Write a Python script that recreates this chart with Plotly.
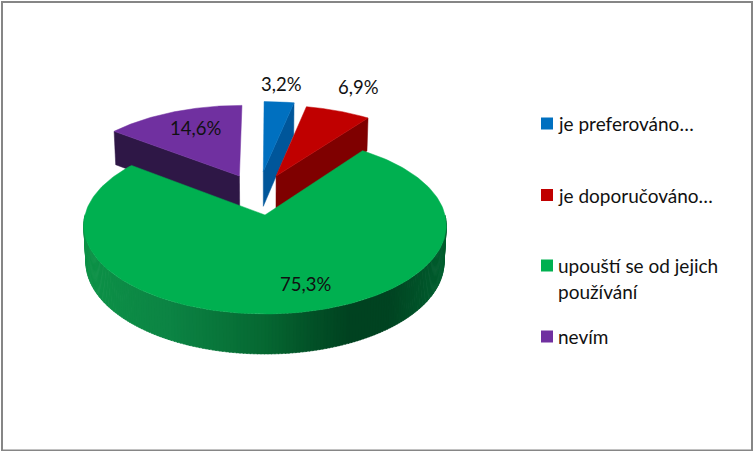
import numpy as np
import plotly.graph_objects as go

labels = ['je preferováno…', 'je doporučováno…', 'upouští se od jejich', 'nevím']
values = [3.2, 6.9, 75.3, 14.6]
top_colors = ['#0070C0', '#C00000', '#00B050', '#7030A0']
wall_colors = ['#00569A', '#7F0000', '#006030', '#2E1746']

# how far each slice is pulled out of the pie, in radii
offset_x = [-0.01, 0.065, 0.0, -0.15]
offset_y = [-0.53, -0.47, 0.0, -0.47]

# shading of the green rim, left to right
rim_x = [85, 170, 265, 310, 350, 390, 446]
rim_r = [14, 12, 6, 3, 0, 0, 0]
rim_g = [146, 132, 104, 82, 66, 68, 96]
rim_b = [72, 68, 50, 40, 32, 34, 48]

# pie projection
cx, cy = 265, 215
rx, ry, depth = 180, 87.4, 37
persp = 0.117


def project(x, y, z=0.0):
    w = 1 - persp * y + 0.012 * z
    return cx + rx * x / w, cy + (ry * y + depth * z) / w


def rim_point(i, deg, z=0.0):
    t = np.radians(deg)
    return project(offset_x[i] + np.sin(t), offset_y[i] - np.cos(t), z)


def polygon(xs, ys, color):
    return go.Scatter(x=xs, y=ys, mode='lines', fill='toself', fillcolor=color,
                      line=dict(color=color, width=0.5), hoverinfo='skip', showlegend=False)


fig = go.Figure()

# slice angles clockwise from the top
edges = np.cumsum([0] + values) * 3.6


def top_surface(i):
    degs = np.linspace(edges[i], edges[i + 1], 200)
    xs, ys = rim_point(i, degs)
    tx, ty = project(offset_x[i], offset_y[i])
    return polygon(np.r_[tx, xs, tx], np.r_[ty, ys, ty], top_colors[i])


def radial_wall(i, deg):
    ox, oy = project(offset_x[i], offset_y[i])
    ox2, oy2 = project(offset_x[i], offset_y[i], 1.0)
    ex, ey = rim_point(i, deg)
    ex2, ey2 = rim_point(i, deg, 1.0)
    return polygon([ox, ex, ex2, ox2, ox], [oy, ey, ey2, oy2, oy], wall_colors[i])


# back slices first, the green one covers them
fig.add_trace(radial_wall(3, edges[3]))
fig.add_trace(top_surface(3))
fig.add_trace(radial_wall(0, edges[1]))
fig.add_trace(top_surface(0))
fig.add_trace(radial_wall(1, edges[2]))
fig.add_trace(top_surface(1))

# green rim as thin strips so it gets the gradient
strips = np.arange(90, 270, 1.0)
for a in strips:
    degs = np.array([a, a + 1.3])
    x1, y1 = rim_point(2, degs)
    x2, y2 = rim_point(2, degs[::-1], 1.0)
    mid = x1.mean()
    col = 'rgb(%d,%d,%d)' % (np.interp(mid, rim_x, rim_r), np.interp(mid, rim_x, rim_g),
                             np.interp(mid, rim_x, rim_b))
    fig.add_trace(polygon(np.r_[x1, x2, x1[0]], np.r_[y1, y2, y1[0]], col))
fig.add_trace(top_surface(2))

# legend swatches
legend_y = [123.5, 195, 265.5, 336.5]
fig.add_trace(go.Scatter(x=[547] * 4, y=legend_y, mode='markers',
                         marker=dict(symbol='square', size=12, color=top_colors, line=dict(width=0)),
                         hoverinfo='skip', showlegend=False))

font = dict(family='Lato', size=19, color='#111111')
for lab, y in zip(labels, legend_y):
    fig.add_annotation(x=556, y=y, text=lab, showarrow=False, xanchor='left', yanchor='middle', font=font)
fig.add_annotation(x=556, y=291, text='používání', showarrow=False, xanchor='left', yanchor='middle', font=font)

# data labels
label_x = [281, 358, 305, 195]
label_y = [84, 87, 284, 128]
label_font = dict(family='Lato', size=18.5, color='#111111')
for v, x, y in zip(values, label_x, label_y):
    fig.add_annotation(x=x, y=y, text=f'{v:.1f}%'.replace('.', ','), showarrow=False,
                       xanchor='center', yanchor='middle', font=label_font)

# chart frame
fig.add_shape(type='rect', x0=2, y0=2, x1=752, y1=450.5, line=dict(color='#868686', width=2), layer='below')

fig.update_layout(
    width=753, height=451,
    margin=dict(l=0, r=0, t=0, b=0),
    paper_bgcolor='white', plot_bgcolor='white',
    xaxis=dict(range=[0, 753], visible=False, fixedrange=True),
    yaxis=dict(range=[451, 0], visible=False, fixedrange=True),
)

fig.write_html("out.html", config={'displayModeBar': False},
               post_script="document.body.style.margin='0';")
